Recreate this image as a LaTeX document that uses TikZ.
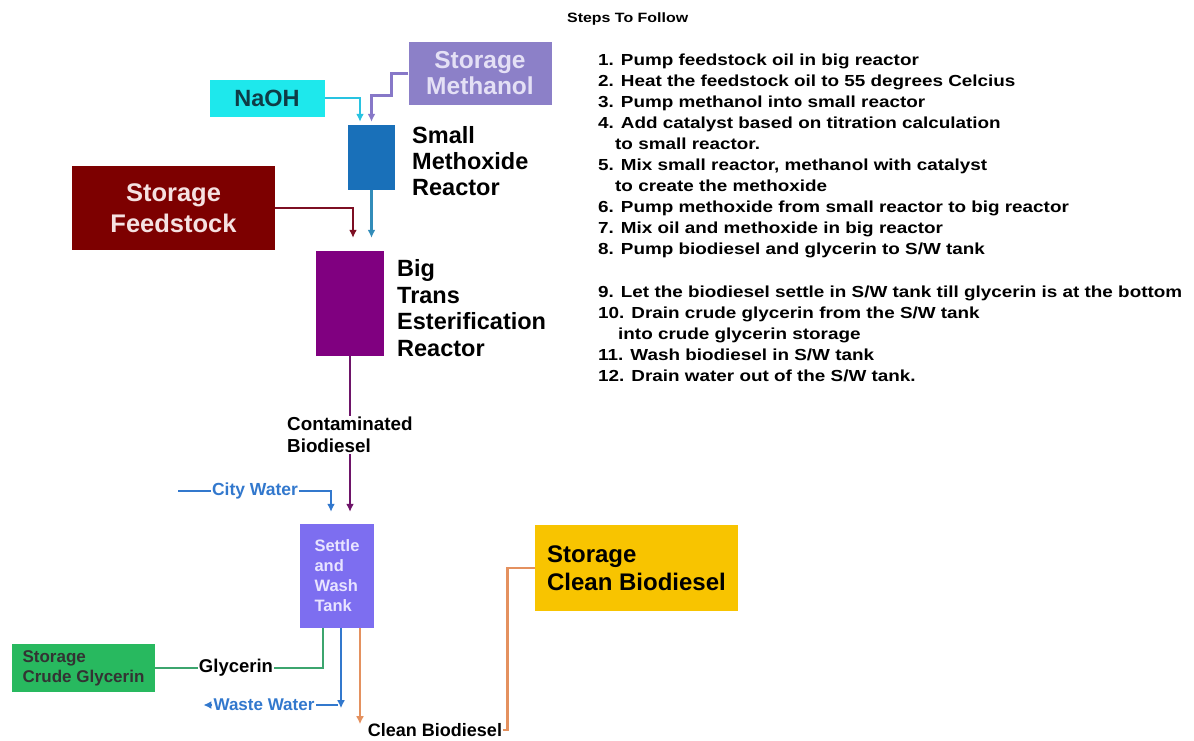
\documentclass[tikz,border=0pt]{standalone}
\usepackage{fontspec}
\setmainfont{Liberation Sans}
\newfontfamily\stepfont{Liberation Sans}[FakeStretch=1.18]
\usetikzlibrary{arrows.meta, calc}

\definecolor{naohbox}{RGB}{30,232,236}
\definecolor{naohtxt}{RGB}{15,60,70}
\definecolor{methbox}{RGB}{140,128,200}
\definecolor{methtxt}{RGB}{228,224,245}
\definecolor{smallbox}{RGB}{25,112,185}
\definecolor{feedbox}{RGB}{125,0,0}
\definecolor{feedtxt}{RGB}{245,225,225}
\definecolor{bigbox}{RGB}{128,0,128}
\definecolor{tankbox}{RGB}{125,110,240}
\definecolor{tanktxt}{RGB}{232,228,255}
\definecolor{cleanbox}{RGB}{248,196,0}
\definecolor{crudebox}{RGB}{40,185,95}
\definecolor{naohline}{RGB}{40,195,225}
\definecolor{methline}{RGB}{135,120,200}
\definecolor{methoxline}{RGB}{50,140,185}
\definecolor{feedline}{RGB}{125,15,35}
\definecolor{contline}{RGB}{110,20,105}
\definecolor{waterline}{RGB}{50,120,205}
\definecolor{glyline}{RGB}{60,165,110}
\definecolor{oraline}{RGB}{228,145,95}

\newcommand{\fsz}[2]{\fontsize{#1}{#2}\selectfont}

\tikzset{%
  box/.style={draw=none, inner sep=0pt, align=center},
  pipe/.style={line width=2.8pt, -{Latex[length=8pt,width=8pt]}},
  plain/.style={line width=2.8pt},
  lbl/.style={inner sep=1pt, font=\bfseries},
}

\begin{document}
\begin{tikzpicture}[x=1pt, y=-1pt]
\useasboundingbox (0,0) rectangle (1194,740);

% boxes
\node[box, fill=naohbox, minimum width=115, minimum height=37, text=naohtxt, font=\bfseries\fsz{23.5}{26}] (naoh) at (267,98) {NaOH};
\node[box, fill=methbox, minimum width=143, minimum height=63, text=methtxt, font=\bfseries\fsz{24.5}{26}] (meth) at (480,73.5) {Storage\\Methanol};
\node[box, fill=smallbox, minimum width=47, minimum height=65] (smallR) at (371.5,157.5) {};
\node[box, fill=feedbox, minimum width=203, minimum height=84, text=feedtxt, font=\bfseries\fsz{25.5}{31}] (feed) at (173.5,208) {Storage\\Feedstock};
\node[box, fill=bigbox, minimum width=68, minimum height=105] (bigR) at (350,303.5) {};
\node[box, fill=tankbox, minimum width=74, minimum height=104, text=tanktxt, align=left, font=\bfseries\fsz{16.5}{20}] (tank) at (337,576) {Settle\\and\\Wash\\Tank};
\node[box, fill=cleanbox, minimum width=203, minimum height=86, align=left, font=\bfseries\fsz{24}{28}] (cleanst) at (636.5,568) {Storage\\Clean Biodiesel};
\node[box, fill=crudebox, minimum width=143, minimum height=48, text=black!80, align=left, font=\bfseries\fsz{17}{20}] (crude) at (83.5,668) {Storage\\Crude Glycerin};

% side labels
\node[lbl, anchor=west, align=left, font=\bfseries\fsz{23.5}{26}] (smalllbl) at (411,161) {Small\\Methoxide\\Reactor};
\node[lbl, anchor=west, align=left, font=\bfseries\fsz{23.5}{26.5}] (biglbl) at (396,308) {Big\\Trans\\Esterification\\Reactor};

% feeds into the small reactor
\draw[pipe, naohline] (naoh.east) -| ([xshift=-11.5,yshift=3]smallR.north);
\draw[pipe, methline] (meth.west) -- ++(-17,0) -- ++(0,22) -| ([yshift=3]smallR.north);

% feeds into the big reactor
\draw[pipe, methoxline, shorten >=13pt] (smallR.south) -- (smallR.south |- bigR.north);
\draw[pipe, feedline] (feed.east) -| ([xshift=3,yshift=13]bigR.north);

% big reactor to tank
\draw[pipe, contline, shorten >=12pt] (bigR.south) -- (bigR.south |- tank.north);
\node[lbl, fill=white, anchor=west, align=left, font=\bfseries\fsz{18.8}{22}] (contlbl) at (286,435) {Contaminated\\Biodiesel};

% city water
\coordinate (cwin) at (178,491);
\node[lbl, text=waterline, font=\bfseries\fsz{17.5}{20}] (city) at (255,491) {City Water};
\draw[plain, waterline] (cwin) -- (city.west);
\draw[pipe, waterline] (city.east) -| ([xshift=-6,yshift=12]tank.north);

% glycerin out
\node[lbl, font=\bfseries\fsz{18.5}{22}] (glylbl) at (236,668) {Glycerin};
\draw[plain, glyline] ([xshift=-14]tank.south) |- (glylbl.east);
\draw[plain, glyline] (glylbl.west) -- (crude.east);

% waste water out
\draw[pipe, waterline] ([xshift=4]tank.south) -- ++(0,80);
\coordinate (wwturn) at (338,705);
\node[lbl, text=waterline, font=\bfseries\fsz{17}{20}] (waste) at (264,705) {Waste Water};
\draw[plain, waterline] (wwturn) -- (waste.east);
\draw[pipe, waterline] (waste.west) -- ++(-9,0);

% clean biodiesel out
\draw[pipe, oraline] ([xshift=23]tank.south) -- ++(0,96);
\node[lbl, font=\bfseries\fsz{18}{22}] (cleanlbl) at (435,730) {Clean Biodiesel};
\draw[plain, oraline] (cleanlbl.east) -- ++(4,0) |- (cleanst.west);

% steps
\node[lbl, anchor=west, font=\stepfont\bfseries\fsz{13.5}{16}] (head) at (566,19) {Steps To Follow};
\node[lbl, anchor=north west, align=left, font=\stepfont\bfseries\fsz{16}{21}] (steps) at (597,53) {%
1. Pump feedstock oil in big reactor\\
2. Heat the feedstock oil to 55 degrees Celcius\\
3. Pump methanol into small reactor\\
4. Add catalyst based on titration calculation\\
\hspace*{17pt}to small reactor.\\
5. Mix small reactor, methanol with catalyst\\
\hspace*{17pt}to create the methoxide\\
6. Pump methoxide from small reactor to big reactor\\
7. Mix oil and methoxide in big reactor\\
8. Pump biodiesel and glycerin to S/W tank\\[22pt]
9. Let the biodiesel settle in S/W tank till glycerin is at the bottom\\
10. Drain crude glycerin from the S/W tank\\
\hspace*{20pt}into crude glycerin storage\\
11. Wash biodiesel in S/W tank\\
12. Drain water out of the S/W tank.};

\end{tikzpicture}
\end{document}
